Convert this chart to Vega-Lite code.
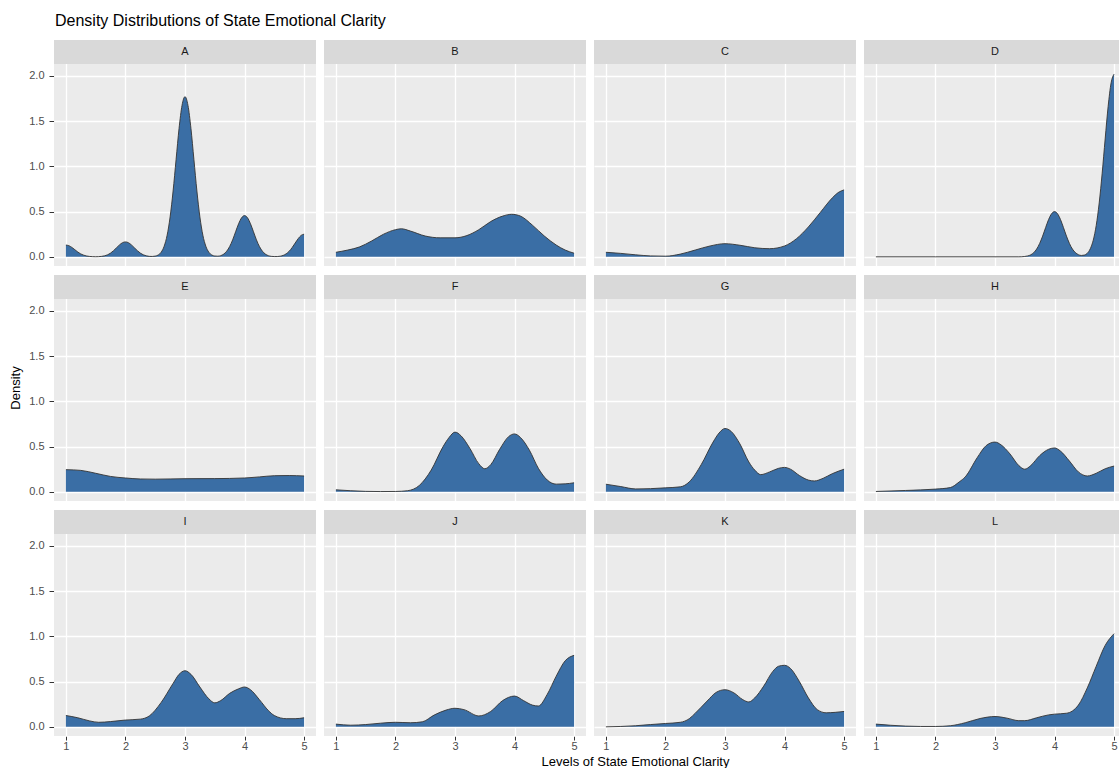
{
  "$schema": "https://vega.github.io/schema/vega-lite/v6.json",
  "background": "white",
  "padding": {"left": 10, "top": 13, "right": 0, "bottom": 0},
  "title": {"text": "Density Distributions of State Emotional Clarity", "anchor": "start", "fontSize": 16, "fontWeight": "normal", "font": "Liberation Sans", "color": "#000000", "offset": 10, "dx": 45},
  "data": {"values": [
    {"g":"A","x":1.0,"d":0.13},{"g":"A","x":1.05,"d":0.123},{"g":"A","x":1.1,"d":0.104},{"g":"A","x":1.15,"d":0.079},{"g":"A","x":1.2,"d":0.053},{"g":"A","x":1.25,"d":0.032},{"g":"A","x":1.3,"d":0.018},{"g":"A","x":1.35,"d":0.009},{"g":"A","x":1.4,"d":0.004},{"g":"A","x":1.45,"d":0.002},{"g":"A","x":1.5,"d":0.001},{"g":"A","x":1.55,"d":0.002},{"g":"A","x":1.6,"d":0.005},{"g":"A","x":1.65,"d":0.011},{"g":"A","x":1.7,"d":0.022},{"g":"A","x":1.75,"d":0.041},{"g":"A","x":1.8,"d":0.068},{"g":"A","x":1.85,"d":0.1},{"g":"A","x":1.9,"d":0.132},{"g":"A","x":1.95,"d":0.156},{"g":"A","x":2.0,"d":0.165},{"g":"A","x":2.05,"d":0.156},{"g":"A","x":2.1,"d":0.132},{"g":"A","x":2.15,"d":0.1},{"g":"A","x":2.2,"d":0.068},{"g":"A","x":2.25,"d":0.041},{"g":"A","x":2.3,"d":0.022},{"g":"A","x":2.35,"d":0.011},{"g":"A","x":2.4,"d":0.005},{"g":"A","x":2.45,"d":0.004},{"g":"A","x":2.5,"d":0.008},{"g":"A","x":2.55,"d":0.02},{"g":"A","x":2.6,"d":0.051},{"g":"A","x":2.65,"d":0.117},{"g":"A","x":2.7,"d":0.239},{"g":"A","x":2.75,"d":0.441},{"g":"A","x":2.8,"d":0.727},{"g":"A","x":2.85,"d":1.074},{"g":"A","x":2.9,"d":1.418},{"g":"A","x":2.95,"d":1.674},{"g":"A","x":3.0,"d":1.77},{"g":"A","x":3.05,"d":1.674},{"g":"A","x":3.1,"d":1.418},{"g":"A","x":3.15,"d":1.074},{"g":"A","x":3.2,"d":0.727},{"g":"A","x":3.25,"d":0.441},{"g":"A","x":3.3,"d":0.239},{"g":"A","x":3.35,"d":0.117},{"g":"A","x":3.4,"d":0.051},{"g":"A","x":3.45,"d":0.02},{"g":"A","x":3.5,"d":0.009},{"g":"A","x":3.55,"d":0.007},{"g":"A","x":3.6,"d":0.013},{"g":"A","x":3.65,"d":0.03},{"g":"A","x":3.7,"d":0.062},{"g":"A","x":3.75,"d":0.114},{"g":"A","x":3.8,"d":0.187},{"g":"A","x":3.85,"d":0.277},{"g":"A","x":3.9,"d":0.365},{"g":"A","x":3.95,"d":0.431},{"g":"A","x":4.0,"d":0.456},{"g":"A","x":4.05,"d":0.431},{"g":"A","x":4.1,"d":0.365},{"g":"A","x":4.15,"d":0.277},{"g":"A","x":4.2,"d":0.187},{"g":"A","x":4.25,"d":0.114},{"g":"A","x":4.3,"d":0.062},{"g":"A","x":4.35,"d":0.03},{"g":"A","x":4.4,"d":0.013},{"g":"A","x":4.45,"d":0.005},{"g":"A","x":4.5,"d":0.003},{"g":"A","x":4.55,"d":0.003},{"g":"A","x":4.6,"d":0.007},{"g":"A","x":4.65,"d":0.016},{"g":"A","x":4.7,"d":0.034},{"g":"A","x":4.75,"d":0.062},{"g":"A","x":4.8,"d":0.103},{"g":"A","x":4.85,"d":0.152},{"g":"A","x":4.9,"d":0.2},{"g":"A","x":4.95,"d":0.237},{"g":"A","x":5.0,"d":0.25},
    {"g":"B","x":1.0,"d":0.05},{"g":"B","x":1.2,"d":0.075},{"g":"B","x":1.4,"d":0.11},{"g":"B","x":1.6,"d":0.175},{"g":"B","x":1.8,"d":0.25},{"g":"B","x":2.0,"d":0.3},{"g":"B","x":2.1,"d":0.31},{"g":"B","x":2.25,"d":0.285},{"g":"B","x":2.5,"d":0.23},{"g":"B","x":2.75,"d":0.21},{"g":"B","x":3.0,"d":0.21},{"g":"B","x":3.2,"d":0.235},{"g":"B","x":3.4,"d":0.3},{"g":"B","x":3.6,"d":0.39},{"g":"B","x":3.8,"d":0.45},{"g":"B","x":3.95,"d":0.47},{"g":"B","x":4.1,"d":0.45},{"g":"B","x":4.3,"d":0.35},{"g":"B","x":4.5,"d":0.23},{"g":"B","x":4.7,"d":0.13},{"g":"B","x":4.85,"d":0.075},{"g":"B","x":5.0,"d":0.04},
    {"g":"C","x":1.0,"d":0.05},{"g":"C","x":1.25,"d":0.038},{"g":"C","x":1.5,"d":0.022},{"g":"C","x":1.75,"d":0.01},{"g":"C","x":2.0,"d":0.007},{"g":"C","x":2.25,"d":0.03},{"g":"C","x":2.5,"d":0.075},{"g":"C","x":2.75,"d":0.12},{"g":"C","x":3.0,"d":0.145},{"g":"C","x":3.25,"d":0.128},{"g":"C","x":3.5,"d":0.1},{"g":"C","x":3.75,"d":0.09},{"g":"C","x":4.0,"d":0.12},{"g":"C","x":4.2,"d":0.2},{"g":"C","x":4.4,"d":0.33},{"g":"C","x":4.6,"d":0.49},{"g":"C","x":4.8,"d":0.65},{"g":"C","x":4.9,"d":0.71},{"g":"C","x":5.0,"d":0.74},
    {"g":"D","x":1.0,"d":0},{"g":"D","x":2.0,"d":0},{"g":"D","x":3.0,"d":0},{"g":"D","x":3.4,"d":0},{"g":"D","x":3.45,"d":0.001},{"g":"D","x":3.5,"d":0.004},{"g":"D","x":3.55,"d":0.01},{"g":"D","x":3.6,"d":0.022},{"g":"D","x":3.65,"d":0.046},{"g":"D","x":3.7,"d":0.086},{"g":"D","x":3.75,"d":0.148},{"g":"D","x":3.8,"d":0.229},{"g":"D","x":3.85,"d":0.323},{"g":"D","x":3.9,"d":0.412},{"g":"D","x":3.95,"d":0.476},{"g":"D","x":4.0,"d":0.5},{"g":"D","x":4.05,"d":0.476},{"g":"D","x":4.1,"d":0.412},{"g":"D","x":4.15,"d":0.323},{"g":"D","x":4.2,"d":0.229},{"g":"D","x":4.25,"d":0.148},{"g":"D","x":4.3,"d":0.086},{"g":"D","x":4.35,"d":0.047},{"g":"D","x":4.4,"d":0.024},{"g":"D","x":4.45,"d":0.015},{"g":"D","x":4.5,"d":0.019},{"g":"D","x":4.55,"d":0.039},{"g":"D","x":4.6,"d":0.089},{"g":"D","x":4.65,"d":0.184},{"g":"D","x":4.7,"d":0.347},{"g":"D","x":4.75,"d":0.596},{"g":"D","x":4.8,"d":0.925},{"g":"D","x":4.85,"d":1.303},{"g":"D","x":4.9,"d":1.662},{"g":"D","x":4.95,"d":1.923},{"g":"D","x":5.0,"d":2.02},
    {"g":"E","x":1.0,"d":0.245},{"g":"E","x":1.25,"d":0.237},{"g":"E","x":1.5,"d":0.205},{"g":"E","x":1.75,"d":0.17},{"g":"E","x":2.0,"d":0.153},{"g":"E","x":2.25,"d":0.142},{"g":"E","x":2.5,"d":0.14},{"g":"E","x":3.0,"d":0.145},{"g":"E","x":3.5,"d":0.146},{"g":"E","x":4.0,"d":0.153},{"g":"E","x":4.25,"d":0.165},{"g":"E","x":4.5,"d":0.178},{"g":"E","x":4.75,"d":0.18},{"g":"E","x":5.0,"d":0.175},
    {"g":"F","x":1.0,"d":0.022},{"g":"F","x":1.25,"d":0.012},{"g":"F","x":1.5,"d":0.005},{"g":"F","x":1.75,"d":0.003},{"g":"F","x":2.0,"d":0.004},{"g":"F","x":2.2,"d":0.012},{"g":"F","x":2.4,"d":0.07},{"g":"F","x":2.6,"d":0.24},{"g":"F","x":2.8,"d":0.5},{"g":"F","x":2.9,"d":0.6},{"g":"F","x":3.0,"d":0.66},{"g":"F","x":3.1,"d":0.62},{"g":"F","x":3.25,"d":0.48},{"g":"F","x":3.4,"d":0.31},{"g":"F","x":3.5,"d":0.255},{"g":"F","x":3.6,"d":0.3},{"g":"F","x":3.75,"d":0.47},{"g":"F","x":3.9,"d":0.61},{"g":"F","x":4.0,"d":0.64},{"g":"F","x":4.1,"d":0.6},{"g":"F","x":4.25,"d":0.46},{"g":"F","x":4.4,"d":0.26},{"g":"F","x":4.55,"d":0.13},{"g":"F","x":4.7,"d":0.085},{"g":"F","x":4.85,"d":0.088},{"g":"F","x":5.0,"d":0.1},
    {"g":"G","x":1.0,"d":0.084},{"g":"G","x":1.25,"d":0.058},{"g":"G","x":1.5,"d":0.032},{"g":"G","x":1.75,"d":0.035},{"g":"G","x":2.0,"d":0.044},{"g":"G","x":2.25,"d":0.055},{"g":"G","x":2.4,"d":0.11},{"g":"G","x":2.6,"d":0.3},{"g":"G","x":2.8,"d":0.55},{"g":"G","x":2.9,"d":0.65},{"g":"G","x":3.0,"d":0.7},{"g":"G","x":3.1,"d":0.67},{"g":"G","x":3.25,"d":0.53},{"g":"G","x":3.4,"d":0.33},{"g":"G","x":3.5,"d":0.24},{"g":"G","x":3.6,"d":0.19},{"g":"G","x":3.75,"d":0.22},{"g":"G","x":3.9,"d":0.26},{"g":"G","x":4.0,"d":0.27},{"g":"G","x":4.1,"d":0.25},{"g":"G","x":4.25,"d":0.18},{"g":"G","x":4.4,"d":0.13},{"g":"G","x":4.5,"d":0.12},{"g":"G","x":4.65,"d":0.15},{"g":"G","x":4.8,"d":0.2},{"g":"G","x":5.0,"d":0.25},
    {"g":"H","x":1.0,"d":0.004},{"g":"H","x":1.5,"d":0.015},{"g":"H","x":2.0,"d":0.03},{"g":"H","x":2.25,"d":0.047},{"g":"H","x":2.4,"d":0.11},{"g":"H","x":2.5,"d":0.165},{"g":"H","x":2.7,"d":0.376},{"g":"H","x":2.85,"d":0.51},{"g":"H","x":3.0,"d":0.55},{"g":"H","x":3.1,"d":0.52},{"g":"H","x":3.25,"d":0.42},{"g":"H","x":3.4,"d":0.29},{"g":"H","x":3.5,"d":0.25},{"g":"H","x":3.6,"d":0.29},{"g":"H","x":3.75,"d":0.4},{"g":"H","x":3.9,"d":0.47},{"g":"H","x":4.0,"d":0.485},{"g":"H","x":4.1,"d":0.45},{"g":"H","x":4.25,"d":0.34},{"g":"H","x":4.4,"d":0.22},{"g":"H","x":4.55,"d":0.175},{"g":"H","x":4.7,"d":0.205},{"g":"H","x":4.85,"d":0.255},{"g":"H","x":5.0,"d":0.285},
    {"g":"I","x":1.0,"d":0.125},{"g":"I","x":1.2,"d":0.1},{"g":"I","x":1.4,"d":0.065},{"g":"I","x":1.55,"d":0.05},{"g":"I","x":1.75,"d":0.058},{"g":"I","x":2.0,"d":0.075},{"g":"I","x":2.25,"d":0.085},{"g":"I","x":2.4,"d":0.12},{"g":"I","x":2.6,"d":0.27},{"g":"I","x":2.8,"d":0.48},{"g":"I","x":2.9,"d":0.58},{"g":"I","x":3.0,"d":0.62},{"g":"I","x":3.1,"d":0.58},{"g":"I","x":3.25,"d":0.44},{"g":"I","x":3.4,"d":0.31},{"g":"I","x":3.5,"d":0.265},{"g":"I","x":3.6,"d":0.29},{"g":"I","x":3.75,"d":0.37},{"g":"I","x":3.9,"d":0.42},{"g":"I","x":4.0,"d":0.44},{"g":"I","x":4.1,"d":0.41},{"g":"I","x":4.25,"d":0.3},{"g":"I","x":4.4,"d":0.18},{"g":"I","x":4.5,"d":0.125},{"g":"I","x":4.7,"d":0.09},{"g":"I","x":4.85,"d":0.09},{"g":"I","x":5.0,"d":0.1},
    {"g":"J","x":1.0,"d":0.03},{"g":"J","x":1.25,"d":0.018},{"g":"J","x":1.5,"d":0.025},{"g":"J","x":1.75,"d":0.04},{"g":"J","x":2.0,"d":0.05},{"g":"J","x":2.25,"d":0.045},{"g":"J","x":2.45,"d":0.055},{"g":"J","x":2.65,"d":0.13},{"g":"J","x":2.85,"d":0.185},{"g":"J","x":3.0,"d":0.205},{"g":"J","x":3.15,"d":0.19},{"g":"J","x":3.4,"d":0.12},{"g":"J","x":3.6,"d":0.17},{"g":"J","x":3.8,"d":0.29},{"g":"J","x":4.0,"d":0.34},{"g":"J","x":4.15,"d":0.29},{"g":"J","x":4.3,"d":0.24},{"g":"J","x":4.4,"d":0.23},{"g":"J","x":4.55,"d":0.36},{"g":"J","x":4.7,"d":0.56},{"g":"J","x":4.85,"d":0.73},{"g":"J","x":5.0,"d":0.79},
    {"g":"K","x":1.0,"d":0.0},{"g":"K","x":1.25,"d":0.004},{"g":"K","x":1.5,"d":0.012},{"g":"K","x":1.75,"d":0.025},{"g":"K","x":2.0,"d":0.037},{"g":"K","x":2.25,"d":0.05},{"g":"K","x":2.4,"d":0.09},{"g":"K","x":2.5,"d":0.15},{"g":"K","x":2.7,"d":0.285},{"g":"K","x":2.85,"d":0.38},{"g":"K","x":3.0,"d":0.41},{"g":"K","x":3.15,"d":0.375},{"g":"K","x":3.3,"d":0.3},{"g":"K","x":3.4,"d":0.275},{"g":"K","x":3.5,"d":0.32},{"g":"K","x":3.65,"d":0.45},{"g":"K","x":3.8,"d":0.61},{"g":"K","x":3.9,"d":0.67},{"g":"K","x":4.0,"d":0.68},{"g":"K","x":4.1,"d":0.645},{"g":"K","x":4.25,"d":0.5},{"g":"K","x":4.4,"d":0.32},{"g":"K","x":4.55,"d":0.19},{"g":"K","x":4.7,"d":0.155},{"g":"K","x":4.85,"d":0.16},{"g":"K","x":5.0,"d":0.17},
    {"g":"L","x":1.0,"d":0.03},{"g":"L","x":1.25,"d":0.017},{"g":"L","x":1.5,"d":0.008},{"g":"L","x":1.75,"d":0.004},{"g":"L","x":2.0,"d":0.004},{"g":"L","x":2.25,"d":0.012},{"g":"L","x":2.5,"d":0.045},{"g":"L","x":2.75,"d":0.092},{"g":"L","x":3.0,"d":0.114},{"g":"L","x":3.2,"d":0.096},{"g":"L","x":3.4,"d":0.068},{"g":"L","x":3.5,"d":0.068},{"g":"L","x":3.7,"d":0.1},{"g":"L","x":3.9,"d":0.132},{"g":"L","x":4.0,"d":0.14},{"g":"L","x":4.2,"d":0.15},{"g":"L","x":4.3,"d":0.175},{"g":"L","x":4.4,"d":0.24},{"g":"L","x":4.55,"d":0.43},{"g":"L","x":4.7,"d":0.67},{"g":"L","x":4.85,"d":0.9},{"g":"L","x":5.0,"d":1.03}
  ]},
  "spacing": 2,
  "vconcat": [
    {
      "facet": {"field": "g", "type": "nominal", "header": {"title": "Density", "titleOrient": "left", "titleFont": "Liberation Sans", "titleFontSize": 13, "titleFontWeight": "normal", "titleColor": "#000000", "titlePadding": 5, "labelExpr": "''", "labelPadding": 0, "labelFontSize": 1}},
      "columns": 4,
      "spacing": {"row": 8, "column": 8},
      "spec": {
        "width": 262,
        "height": 226,
        "layer": [
          {
            "mark": {"type": "area", "interpolate": "monotone", "color": "#3A6EA5", "opacity": 1, "fillOpacity": 1, "line": {"color": "#333333", "strokeWidth": 0.9}},
            "encoding": {
              "x": {"field": "x", "type": "quantitative", "scale": {"domain": [0.8, 5.2], "nice": false, "zero": false},
                    "axis": {"values": [1, 1.5, 2, 2.5, 3, 3.5, 4, 4.5, 5], "labelExpr": "datum.value % 1 === 0 ? format(datum.value, 'd') : ''", "grid": true, "gridColor": "#FFFFFF", "gridWidth": {"condition": {"test": "datum.value % 1 === 0", "value": 1.3}, "value": 0.6}, "domain": false, "tickColor": "#333333", "tickSize": 4, "tickWidth": 1, "tickOpacity": {"condition": {"test": "datum.value % 1 === 0", "value": 1}, "value": 0}, "labelColor": "#4D4D4D", "labelFontSize": 11, "labelPadding": 0, "labelFont": "Liberation Sans", "labelFlush": false, "labelOverlap": false, "title": null}},
              "y": {"field": "d", "type": "quantitative", "scale": {"domain": [-0.1015, 2.3968], "nice": false, "zero": false},
                    "axis": {"values": [0, 0.25, 0.5, 0.75, 1, 1.25, 1.5, 1.75, 2], "labelExpr": "datum.value % 0.5 === 0 ? format(datum.value, '.1f') : ''", "grid": true, "gridColor": "#FFFFFF", "gridWidth": {"condition": {"test": "datum.value % 0.5 === 0", "value": 1.3}, "value": 0.6}, "domain": false, "tickColor": "#333333", "tickSize": 5, "tickWidth": 1, "tickOpacity": {"condition": {"test": "datum.value % 0.5 === 0", "value": 1}, "value": 0}, "labelColor": "#4D4D4D", "labelFontSize": 11, "labelPadding": 5, "labelFont": "Liberation Sans", "labelOverlap": false, "labelFlush": false, "title": null}}
            }
          },
          {
            "transform": [{"aggregate": [{"op": "count", "as": "n"}], "groupby": ["g"]}],
            "mark": {"type": "rect", "color": "#D9D9D9", "opacity": 1},
            "encoding": {
              "x": {"datum": 0.8, "type": "quantitative"},
              "x2": {"datum": 5.2},
              "y": {"datum": 2.1315, "type": "quantitative"},
              "y2": {"datum": 2.3968}
            }
          },
          {
            "transform": [{"aggregate": [{"op": "count", "as": "n"}], "groupby": ["g"]}],
            "mark": {"type": "text", "fontSize": 11, "color": "#1A1A1A", "font": "Liberation Sans", "baseline": "middle", "align": "center"},
            "encoding": {
              "x": {"datum": 3, "type": "quantitative"},
              "y": {"datum": 2.264, "type": "quantitative"},
              "text": {"field": "g", "type": "nominal"}
            }
          }
        ]
      }
    },
    {
      "width": 1162,
      "height": 1,
      "view": {"fill": "white", "stroke": null},
      "mark": {"type": "tick", "opacity": 0},
      "encoding": {
        "x": {"field": "x", "type": "quantitative", "axis": {"title": "Levels of State Emotional Clarity", "labels": false, "ticks": false, "domain": false, "grid": false, "titleFont": "Liberation Sans", "titleFontSize": 13, "titleFontWeight": "normal", "titleColor": "#000000", "titlePadding": 1}}
      }
    }
  ],
  "config": {"view": {"fill": "#EBEBEB", "stroke": null}, "font": "Liberation Sans"}
}
